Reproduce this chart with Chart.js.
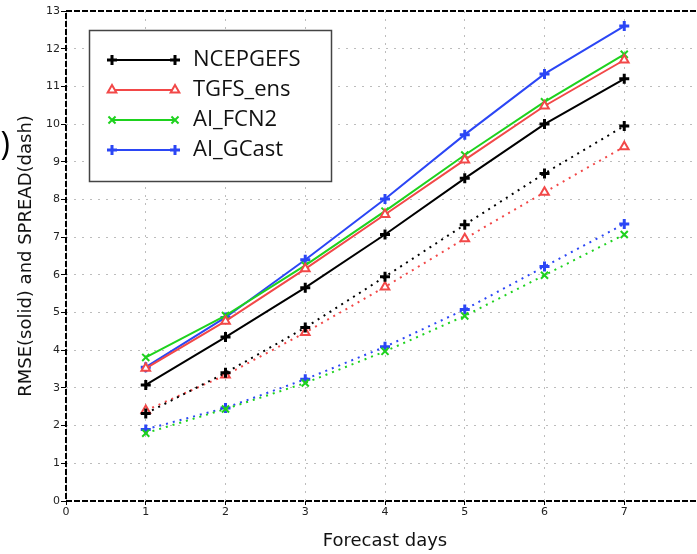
<!DOCTYPE html>
<html lang="en">
<head>
<meta charset="UTF-8">
<title>RMSE and SPREAD</title>
<script src="https://cdn.jsdelivr.net/npm/chart.js"></script>
<style>
  body { margin: 0; overflow: hidden; background: #fff; }
  #caixa { width: 712px; height: 554px; }
</style>
</head>
<body>
<div id="caixa"><canvas id="grafico" width="712" height="554"></canvas></div>
<script>
const dias = [1, 2, 3, 4, 5, 6, 7];
const modelos = ['NCEPGEFS', 'TGFS_ens', 'AI_FCN2', 'AI_GCast'];
const ticksX = [0, 1, 2, 3, 4, 5, 6, 7, 8];
const ticksY = [0, 1, 2, 3, 4, 5, 6, 7, 8, 9, 10, 11, 12, 13];

// RMSE (linha cheia)
const rmseNcep  = [3.08, 4.35, 5.66, 7.07, 8.56, 10.0, 11.2];
const rmseTgfs  = [3.52, 4.77, 6.16, 7.6, 9.05, 10.48, 11.7];
const rmseFcn2  = [3.81, 4.92, 6.25, 7.69, 9.18, 10.59, 11.85];
const rmseGcast = [3.55, 4.87, 6.4, 8.01, 9.72, 11.33, 12.6];

// SPREAD (pontilhado)
const spreadNcep  = [2.32, 3.4, 4.6, 5.95, 7.33, 8.69, 9.95];
const spreadTgfs  = [2.4, 3.34, 4.47, 5.68, 6.96, 8.19, 9.4];
const spreadFcn2  = [1.8, 2.44, 3.13, 3.97, 4.91, 5.99, 7.07];
const spreadGcast = [1.9, 2.47, 3.23, 4.09, 5.08, 6.22, 7.35];

const cores = ['#000000', '#f24848', '#1ed21e', '#2b46f5'];
const marcadores = ['cross', 'triangle', 'crossRot', 'cross'];

function pontos(valores) {
  return dias.map((d, i) => ({ x: d, y: valores[i] }));
}

function serie(i, valores, pontilhado) {
  return {
    label: modelos[i],
    data: pontos(valores),
    borderColor: cores[i],
    backgroundColor: cores[i],
    borderWidth: 2,
    borderDash: pontilhado ? [2, 5] : [],
    pointStyle: marcadores[i],
    pointRadius: 5,
    pointHoverRadius: 5,
    pointBorderWidth: marcadores[i] === 'cross' ? 3 : 2,
    pointBackgroundColor: marcadores[i] === 'triangle' ? '#fff' : cores[i],
    tension: 0,
    pontilhado: pontilhado
  };
}

const series = [
  serie(0, spreadNcep, true),
  serie(1, spreadTgfs, true),
  serie(2, spreadFcn2, true),
  serie(3, spreadGcast, true),
  serie(0, rmseNcep, false),
  serie(1, rmseTgfs, false),
  serie(2, rmseFcn2, false),
  serie(3, rmseGcast, false)
];

// moldura tracejada, legenda em caixa e o ")" cortado na esquerda
const extras = {
  id: 'extras',
  afterDraw(chart) {
    const ctx = chart.ctx;
    const area = chart.chartArea;
    ctx.save();

    ctx.strokeStyle = '#000';
    ctx.lineWidth = 2;
    ctx.setLineDash([6, 2]);
    ctx.beginPath();
    ctx.moveTo(area.right, area.top);
    ctx.lineTo(area.left, area.top);
    ctx.lineTo(area.left, area.bottom);
    ctx.lineTo(area.right, area.bottom);
    ctx.stroke();
    ctx.setLineDash([]);

    ctx.fillStyle = '#fff';
    ctx.fillRect(89.5, 30.5, 242, 151);
    ctx.strokeStyle = '#444';
    ctx.lineWidth = 1.5;
    ctx.strokeRect(89.5, 30.5, 242, 151);

    chart.data.datasets.filter(ds => !ds.pontilhado).forEach((ds, i) => {
      const y = 60 + i * 30;
      ctx.strokeStyle = ds.borderColor;
      ctx.lineWidth = 2;
      ctx.beginPath();
      ctx.moveTo(112, y);
      ctx.lineTo(175, y);
      ctx.stroke();

      [112, 175].forEach(x => {
        ctx.fillStyle = ds.pointBackgroundColor;
        ctx.strokeStyle = ds.borderColor;
        ctx.lineWidth = ds.pointBorderWidth;
        Chart.helpers.drawPoint(ctx, {
          pointStyle: ds.pointStyle,
          radius: 5,
          borderWidth: ds.pointBorderWidth,
          rotation: 0
        }, x, y);
      });

      ctx.fillStyle = '#111';
      ctx.font = '22px "Open Sans"';
      ctx.textAlign = 'left';
      ctx.textBaseline = 'middle';
      ctx.fillText(ds.label, 193, y);
    });

    ctx.fillStyle = '#000';
    ctx.font = '32px "Open Sans"';
    ctx.textAlign = 'right';
    ctx.textBaseline = 'middle';
    ctx.fillText(')', 10, 146);

    ctx.restore();
  }
};

const fonteTicks = { family: 'DejaVu Sans', size: 11 };
const fonteTitulo = { family: 'DejaVu Sans', size: 18 };

// em v4 o tracejado da grade vem de border.dash
const grade = {
  color: '#bcbcbc', lineWidth: 1,
  tickColor: '#000', tickWidth: 1, tickBorderDash: []
};

const ctx = document.getElementById('grafico').getContext('2d');
new Chart(ctx, {
  type: 'line',
  data: { datasets: series },
  options: {
    responsive: false,
    animation: false,
    layout: { padding: { top: 11, right: 4, left: 0, bottom: 0 } },
    plugins: {
      legend: { display: false },
      tooltip: { enabled: false }
    },
    scales: {
      x: {
        type: 'linear',
        min: 0,
        max: 8,
        afterFit(escala) { escala.height = 53; },
        afterBuildTicks(escala) { escala.ticks = ticksX.map(v => ({ value: v })); },
        ticks: { padding: 1, color: '#222', font: fonteTicks },
        grid: Object.assign({ tickLength: 4 }, grade),
        border: { display: false, dash: [2, 6] },
        title: {
          display: true, text: 'Forecast days', color: '#111',
          font: fonteTitulo, padding: { top: 0, bottom: 2 }
        }
      },
      y: {
        min: 0,
        max: 13,
        afterFit(escala) { escala.width = 66; },
        afterBuildTicks(escala) { escala.ticks = ticksY.map(v => ({ value: v })); },
        ticks: { padding: 1, color: '#222', font: fonteTicks },
        grid: Object.assign({ tickLength: 5 }, grade),
        border: { display: false, dash: [2, 6] },
        title: {
          display: true, text: 'RMSE(solid) and SPREAD(dash)', color: '#111',
          font: fonteTitulo, padding: { top: 16, bottom: 0 }
        }
      }
    }
  },
  plugins: [extras]
});
</script>
</body>
</html>
